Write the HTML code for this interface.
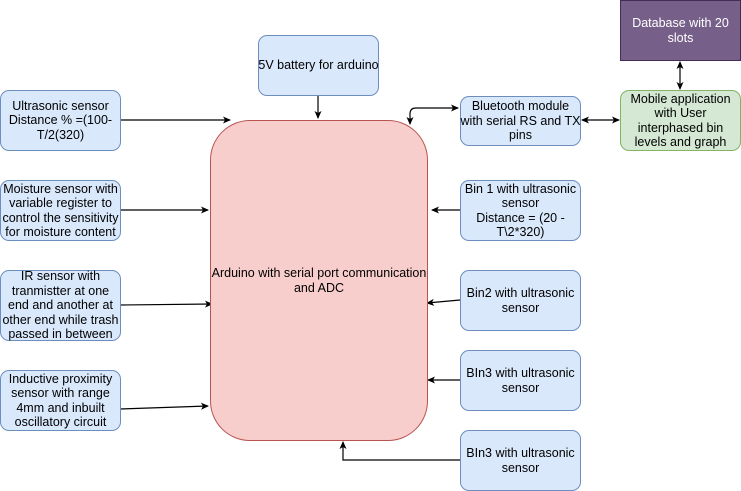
<!DOCTYPE html>
<html><head><style>
body{margin:0;background:#fff;width:741px;height:491px;overflow:hidden;position:relative;font-family:"Liberation Sans",Arial,sans-serif;}
.b{position:absolute;box-sizing:border-box;display:flex;align-items:center;justify-content:center;text-align:center;font-size:12.5px;line-height:14.5px;color:#000;border:1px solid #6c8ebf;background:#dae8fc;border-radius:9px;white-space:nowrap;}
</style></head><body>
<svg width="741" height="491" style="position:absolute;left:0;top:0">
<defs><marker id="a" markerWidth="8" markerHeight="8" refX="7" refY="4" orient="auto" markerUnits="userSpaceOnUse"><path d="M0,0.5 L8,4 L0,7.5 L2,4 Z" fill="#000"/></marker>
<marker id="s" markerWidth="8" markerHeight="8" refX="1" refY="4" orient="auto" markerUnits="userSpaceOnUse"><path d="M8,0.5 L0,4 L8,7.5 L6,4 Z" fill="#000"/></marker></defs>
<g stroke="#000" stroke-width="1.2" fill="none">
<line x1="120" y1="120" x2="230" y2="120" marker-end="url(#a)"/>
<line x1="120" y1="210" x2="208" y2="210" marker-end="url(#a)"/>
<line x1="120" y1="305" x2="212" y2="304" marker-end="url(#a)"/>
<line x1="120" y1="409" x2="208" y2="406" marker-end="url(#a)"/>
<line x1="318" y1="95" x2="318" y2="118" marker-end="url(#a)"/>
<path d="M458,108 L416,108 Q410,108 410,114 L410,124" marker-start="url(#s)" marker-end="url(#a)"/>
<line x1="582" y1="120" x2="619" y2="120" marker-start="url(#s)" marker-end="url(#a)"/>
<line x1="680" y1="62" x2="680" y2="89" marker-start="url(#s)" marker-end="url(#a)"/>
<line x1="460" y1="210" x2="432" y2="210" marker-end="url(#a)"/>
<line x1="460" y1="300" x2="427" y2="303" marker-end="url(#a)"/>
<line x1="460" y1="380" x2="428" y2="380" marker-end="url(#a)"/>
<path d="M460,460 L343,460 L343,442" marker-end="url(#a)"/>
</g></svg>
<div class="b" style="left:0;top:90px;width:121px;height:61px">Ultrasonic sensor<br>Distance % =(100-<br>T/2(320)</div>
<div class="b" style="left:0;top:180px;width:121px;height:61px">Moisture sensor with<br>variable register to<br>control the sensitivity<br>for moisture content</div>
<div class="b" style="left:0;top:270px;width:121px;height:71px">IR sensor with<br>tranmistter at one<br>end and another at<br>other end while trash<br>passed in between</div>
<div class="b" style="left:0;top:370px;width:121px;height:61px">Inductive proximity<br>sensor with range<br>4mm and inbuilt<br>oscillatory circuit</div>
<div class="b" style="left:258px;top:35px;width:121px;height:61px">5V battery for arduino</div>
<div class="b" style="left:210px;top:120px;width:218px;height:321px;background:#f8cecc;border-color:#b85450;border-radius:40px">Arduino with serial port communication<br>and ADC</div>
<div class="b" style="left:460px;top:96px;width:121px;height:50px">Bluetooth module<br>with serial RS and TX<br>pins</div>
<div class="b" style="left:460px;top:180px;width:121px;height:61px">Bin 1 with ultrasonic<br>sensor<br>Distance = (20 -<br>T\2*320)</div>
<div class="b" style="left:460px;top:270px;width:121px;height:61px">Bin2 with ultrasonic<br>sensor</div>
<div class="b" style="left:460px;top:350px;width:121px;height:61px">BIn3 with ultrasonic<br>sensor</div>
<div class="b" style="left:460px;top:430px;width:121px;height:61px">BIn3 with ultrasonic<br>sensor</div>
<div class="b" style="left:620px;top:0;width:121px;height:61px;background:#76608a;border-color:#432d57;color:#fff;border-radius:0">Database with 20<br>slots</div>
<div class="b" style="left:620px;top:90px;width:121px;height:61px;background:#d5e8d4;border-color:#82b366">Mobile application<br>with User<br>interphased bin<br>levels and graph</div>
</body></html>
